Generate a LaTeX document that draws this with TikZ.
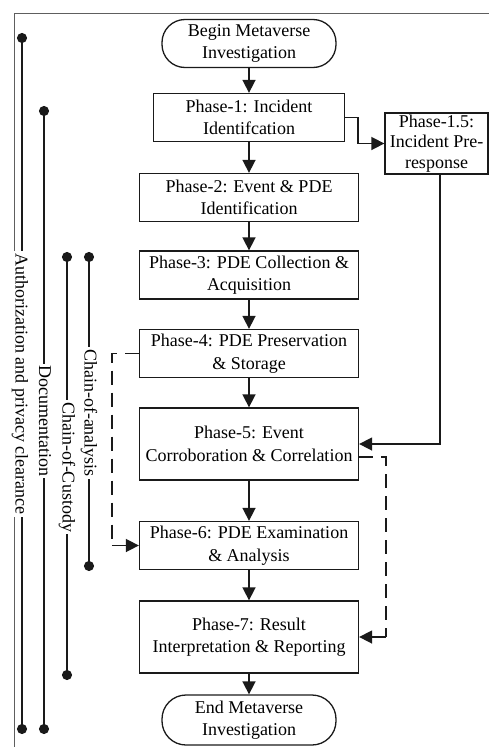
\documentclass[tikz,border=0pt]{standalone}
\usepackage{fontspec}
\setmainfont{Liberation Serif}
\usetikzlibrary{arrows.meta,positioning,calc}
\definecolor{ink}{HTML}{1A1A1A}
\definecolor{framegray}{HTML}{5E5E5E}

\begin{document}
\begin{tikzpicture}[x=1pt,y=-1pt,>={Triangle[length=13pt,width=13pt]},
  font=\fontsize{18}{22.5}\selectfont,
  phase/.style={draw=ink,line width=1.3pt,minimum width=219pt,minimum height=48pt,align=center,inner sep=0pt},
  term/.style={draw=ink,line width=1.3pt,rounded corners=23pt,minimum width=174pt,minimum height=48pt,align=center,inner sep=0pt},
  flow/.style={->,line width=1.6pt,ink},
  loop/.style={line width=1.6pt,ink,dash pattern=on 14pt off 8pt},
  side/.style={{Circle[length=10pt]}-{Circle[length=10pt]},line width=1.6pt,ink},
  sidelabel/.style={rotate=-90,fill=white,inner xsep=2pt,inner ysep=0pt}]
\useasboundingbox (0,0) rectangle (489,747);
\draw[framegray,line width=1pt] (14,747)--(14,13)--(489,13);

% main chain
\node[term] (begin) at (249,43.5) {Begin Metaverse\\Investigation};
\node[phase,minimum width=191pt] (p1) at (249,117.5) {Phase-1: Incident\\Identifcation};
\node[phase] (p2) at (249,197.5) {Phase-2: Event \& PDE\\Identification};
\node[phase] (p3) at (249,275) {Phase-3: PDE Collection \&\\Acquisition};
\node[phase] (p4) at (249,353.5) {Phase-4: PDE Preservation\\\& Storage};
\node[phase,minimum height=72pt] (p5) at (249,444) {Phase-5: Event\\Corroboration \& Correlation};
\node[phase] (p6) at (249,545.5) {Phase-6: PDE Examination\\\& Analysis};
\node[phase,minimum height=72pt] (p7) at (249,637) {Phase-7: Result\\Interpretation \& Reporting};
\node[term,minimum height=50pt,rounded corners=24pt] (end) at (249,720) {End Metaverse\\Investigation};
\node[phase,minimum width=103pt,minimum height=61pt,font=\fontsize{18}{20.5}\selectfont] (p15) at (436.5,143.5) {Phase-1.5:\\Incident Pre-\\response};

\draw[flow] (begin)--(p1);
\draw[flow] (p1)--(p2);
\draw[flow] (p2)--(p3);
\draw[flow] (p3)--(p4);
\draw[flow] (p4)--(p5);
\draw[flow] (p5)--(p6);
\draw[flow] (p6)--(p7);
\draw[flow] (p7)--(end);
\draw[flow] (p1.east)--++(13,0)|-(p15.west);
\draw[flow] ([xshift=3.5pt]p15.south)|-(p5.east);

% dashed feedback
\coordinate (l4) at ($(p4.west)+(-27,0)$);
\coordinate (l6) at (l4 |- p6.west);
\coordinate (r5) at ($(p5.east)+(27,13)$);
\coordinate (r7) at (r5 |- p7.east);
\draw[loop] (p4.west)--(l4)--(l6);
\draw[flow] (l6)--(p6.west);
\draw[loop] ([yshift=-13pt]p5.east)--(r5)--(r7);
\draw[flow] (r7)--(p7.east);

% side bars
\coordinate (auth1) at (22,33);  \coordinate (auth2) at (22,734);
\coordinate (doc1) at (44,106);  \coordinate (doc2) at (44,734);
\coordinate (coc1) at (67,252);  \coordinate (coc2) at (67,680);
\coordinate (coa1) at (89,252);  \coordinate (coa2) at (89,571);
\draw[side] (auth1)--(auth2);
\draw[side] (doc1)--(doc2);
\draw[side] (coc1)--(coc2);
\draw[side] (coa1)--(coa2);
\node[sidelabel] (authl) at (20,384) {Authorization and privacy clearance};
\node[sidelabel] (docl) at (45,421) {Documentation};
\node[sidelabel] (cocl) at (67,467) {Chain-of-Custody};
\node[sidelabel] (coal) at (89,413) {Chain-of-analysis};
\end{tikzpicture}
\end{document}
